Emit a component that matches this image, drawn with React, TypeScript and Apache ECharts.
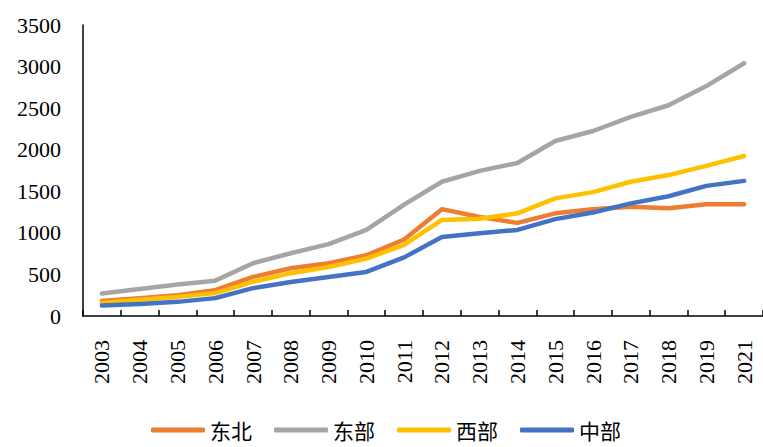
import React, { useEffect, useRef } from "react";
import * as echarts from "echarts";

const years = ["2003","2004","2005","2006","2007","2008","2009","2010","2011","2012","2013","2014","2015","2016","2017","2018","2019","2021"];
const dongbei = [180, 215, 250, 310, 470, 575, 635, 730, 920, 1285, 1190, 1120, 1235, 1285, 1315, 1295, 1345, 1345];
const dongbu = [270, 325, 380, 425, 635, 755, 865, 1035, 1340, 1615, 1745, 1840, 2105, 2225, 2395, 2535, 2765, 3040];
const xibu = [155, 195, 230, 275, 410, 515, 590, 690, 855, 1155, 1170, 1235, 1415, 1490, 1615, 1695, 1805, 1925];
const zhongbu = [125, 145, 170, 215, 335, 410, 470, 530, 705, 950, 995, 1035, 1165, 1245, 1355, 1440, 1565, 1625];
const yTicks = [0, 500, 1000, 1500, 2000, 2500, 3000, 3500];

const serif = "'Liberation Serif', 'Times New Roman', serif";
const cjk = "'Noto Sans CJK SC', sans-serif";

export default function App() {
  const ref = useRef<HTMLDivElement>(null);
  useEffect(() => {
    if (!ref.current) return;
    const chart = echarts.init(ref.current, null, { renderer: "svg" });
    const mk = (name: string, data: number[], color: string) => ({
      name,
      type: "line",
      data,
      symbol: "none",
      lineStyle: { color, width: 4.5, cap: "round", join: "round" },
      itemStyle: { color },
    });
    chart.setOption({
      animation: false,
      grid: { left: 83, top: 25, width: 688, height: 291, containLabel: false },
      xAxis: {
        type: "category",
        data: years,
        boundaryGap: true,
        axisLine: { lineStyle: { color: "#000", width: 1.5 } },
        axisTick: { show: true, inside: true, length: 6, lineStyle: { color: "#000", width: 1.5 } },
        axisLabel: { rotate: 90, margin: 24, color: "#000", fontSize: 22, fontFamily: serif, interval: 0 },
      },
      yAxis: {
        type: "value",
        min: yTicks[0],
        max: yTicks[yTicks.length - 1],
        interval: 500,
        axisLine: { show: true, lineStyle: { color: "#000", width: 1.5 } },
        axisTick: { show: false },
        splitLine: { show: false },
        axisLabel: {
          margin: 22,
          color: "#000",
          fontSize: 22,
          fontFamily: serif,
          formatter: (v: number) => String(v),
        },
      },
      legend: {
        left: 151,
        top: 419,
        padding: 0,
        itemWidth: 54,
        itemHeight: 5,
        itemGap: 22,
        icon: "roundRect",
        textStyle: { fontFamily: cjk, fontSize: 21, lineHeight: 22, color: "#000" },
        data: ["东北", "东部", "西部", "中部"],
      },
      series: [
        mk("东北", dongbei, "#ED7D31"),
        mk("东部", dongbu, "#A5A5A5"),
        mk("西部", xibu, "#FFC000"),
        mk("中部", zhongbu, "#4472C4"),
      ],
    });
    return () => chart.dispose();
  }, []);
  return (
    <div
      ref={ref}
      style={{ position: "fixed", left: 0, top: 0, width: 763, height: 447, background: "#fff" }}
    />
  );
}
